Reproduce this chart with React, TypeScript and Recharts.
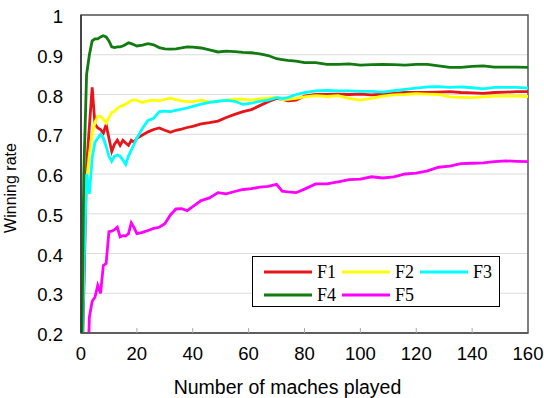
import React from 'react';
import { LineChart, Line, XAxis, YAxis, CartesianGrid, ReferenceArea, Legend } from 'recharts';

const matches = [
  0, 1, 2, 3, 4, 5, 6, 7, 8, 9, 10,
  11, 12, 13, 14, 15, 16, 17, 18, 19, 20,
  22, 24, 26, 28, 30, 32, 34, 36, 38, 40,
  43, 46, 49, 52, 55, 58, 61, 64, 67, 70,
  72, 74, 77, 80,
  84, 88, 92, 96, 100, 104, 108, 112, 116, 120,
  124, 128, 132, 136, 140, 144, 148, 152, 156, 160,
];

const f1 = [
  0, 0.3, 0.62, 0.72, 0.818, 0.725, 0.716, 0.712, 0.703, 0.724, 0.69,
  0.657, 0.675, 0.685, 0.672, 0.685, 0.678, 0.672, 0.685, 0.68, 0.69,
  0.698, 0.706, 0.712, 0.716, 0.71, 0.705, 0.71, 0.713, 0.717, 0.72,
  0.726, 0.729, 0.733, 0.742, 0.75, 0.757, 0.762, 0.772, 0.782, 0.79,
  0.788, 0.784, 0.786, 0.796,
  0.8, 0.8, 0.801, 0.8, 0.801, 0.799, 0.801, 0.803, 0.805, 0.805,
  0.805, 0.806, 0.807, 0.805, 0.804, 0.803, 0.805, 0.806, 0.807, 0.807,
];

const f2 = [
  0, 0.45, 0.58, 0.65, 0.7, 0.73, 0.745, 0.745, 0.738, 0.728, 0.742,
  0.755, 0.758, 0.765, 0.77, 0.772, 0.776, 0.78, 0.785, 0.787, 0.785,
  0.78, 0.784, 0.786, 0.784, 0.788, 0.791, 0.787, 0.784, 0.782, 0.782,
  0.786, 0.781, 0.783, 0.786, 0.788, 0.788, 0.786, 0.789, 0.791, 0.793,
  0.787, 0.788, 0.79, 0.794,
  0.797, 0.795, 0.797, 0.79, 0.786, 0.79, 0.796, 0.799, 0.8, 0.802,
  0.801, 0.8, 0.794, 0.793, 0.792, 0.794, 0.796, 0.796, 0.796, 0.795,
];

const f3 = [
  0, 0.35, 0.6, 0.55, 0.64, 0.68, 0.69, 0.7, 0.69, 0.67, 0.645,
  0.632, 0.645, 0.648, 0.645, 0.635, 0.624, 0.645, 0.66, 0.675, 0.69,
  0.715, 0.735, 0.74, 0.757, 0.758, 0.757, 0.76, 0.763, 0.766, 0.77,
  0.776, 0.78, 0.783, 0.785, 0.783, 0.775, 0.778, 0.783, 0.786, 0.792,
  0.79, 0.792, 0.8, 0.805,
  0.809, 0.81, 0.809, 0.809, 0.808, 0.808, 0.806, 0.81, 0.813, 0.816,
  0.819, 0.82, 0.818, 0.819, 0.817, 0.814, 0.818, 0.818, 0.818, 0.816,
];

const f4 = [
  0, 0.6, 0.85, 0.9, 0.935, 0.94, 0.94, 0.945, 0.948, 0.945, 0.935,
  0.92, 0.918, 0.92, 0.92, 0.922, 0.926, 0.93, 0.928, 0.925, 0.922,
  0.924, 0.928, 0.925, 0.918, 0.915, 0.914, 0.915, 0.917, 0.92, 0.919,
  0.917, 0.912, 0.907, 0.909, 0.908, 0.906, 0.905, 0.902, 0.898, 0.89,
  0.888, 0.886, 0.884, 0.88,
  0.88, 0.876, 0.876, 0.877, 0.874, 0.875, 0.876, 0.875, 0.874, 0.876,
  0.876, 0.872, 0.868, 0.868, 0.871, 0.872, 0.869, 0.869, 0.869, 0.868,
];

const f5 = [
  0, 0, 0, 0.24, 0.28, 0.29, 0.32, 0.3, 0.37, 0.375, 0.455,
  0.456, 0.46, 0.466, 0.442, 0.445, 0.444, 0.45, 0.477, 0.465, 0.45,
  0.453, 0.458, 0.463, 0.466, 0.475, 0.497, 0.512, 0.513, 0.508, 0.518,
  0.533, 0.54, 0.553, 0.55, 0.556, 0.561, 0.563, 0.567, 0.569, 0.574,
  0.557, 0.555, 0.553, 0.562,
  0.575, 0.575, 0.58, 0.586, 0.587, 0.593, 0.59, 0.593, 0.6, 0.602,
  0.608, 0.617, 0.62, 0.626, 0.627, 0.628, 0.631, 0.633, 0.632, 0.631,
];

const xTicks = [0, 20, 40, 60, 80, 100, 120, 140, 160];
const yTicks = [0.2, 0.3, 0.4, 0.5, 0.6, 0.7, 0.8, 0.9, 1];
const seriesNames = ['F1', 'F2', 'F3', 'F4', 'F5'];
const seriesValues = [f1, f2, f3, f4, f5];
const colors = ['#e8141a', '#ffff00', '#00ffff', '#117a11', '#ff00ff'];

const data = matches.map((m, i) => {
  const row: Record<string, number> = { m };
  seriesNames.forEach((n, k) => {
    row[n] = seriesValues[k][i];
  });
  return row;
});

const tickFont = '"Liberation Sans", Arial, sans-serif';

const YTick = (props: any) => {
  const { x, y, payload } = props;
  return (
    <text x={x} y={y} dy={8} textAnchor="end" fontFamily={tickFont} fontSize={18.5} fill="#000">
      {String(payload.value)}
    </text>
  );
};

const XTick = (props: any) => {
  const { x, y, payload } = props;
  const inner = payload.value !== 0 && payload.value !== 160;
  return (
    <g>
      {inner && <line x1={x} x2={x} y1={y} y2={y - 5} stroke="#aaa" strokeWidth={1} />}
      <text x={x} y={y + 27} textAnchor="middle" fontFamily={tickFont} fontSize={18.5} fill="#000">
        {String(payload.value)}
      </text>
    </g>
  );
};

const LegendBox = () => {
  const rows = [
    [0, 1, 2],
    [3, 4],
  ];
  return (
    <svg width={248} height={51} style={{ display: 'block' }}>
      <rect x={0.5} y={0.5} width={247} height={50} fill="#fff" stroke="#000" strokeWidth={1} />
      {rows.map((r, ri) =>
        r.map((k, ci) => {
          const lx = 12 + ci * 78;
          const ly = 16 + ri * 23;
          return (
            <g key={k}>
              <line x1={lx} x2={lx + 48} y1={ly} y2={ly} stroke={colors[k]} strokeWidth={3} />
              <text
                x={lx + 53}
                y={ly + 6}
                fontFamily='"Liberation Serif", "Times New Roman", serif'
                fontSize={18}
                fill="#000"
              >
                {seriesNames[k]}
              </text>
            </g>
          );
        })
      )}
    </svg>
  );
};

export default function App() {
  return (
    <div style={{ position: 'absolute', left: 0, top: 0, width: 544, height: 398, background: '#fff' }}>
      <LineChart width={544} height={398} data={data} margin={{ top: 15, right: 16, bottom: 20, left: 0 }}>
        <CartesianGrid vertical={false} stroke="#dcdcdc" strokeWidth={1} />
        <XAxis
          dataKey="m"
          type="number"
          domain={[0, 160]}
          ticks={xTicks}
          interval={0}
          tickLine={false}
          tickSize={0}
          tickMargin={0}
          height={45}
          axisLine={{ stroke: '#555', strokeWidth: 1.5 }}
          tick={<XTick />}
          label={{
            value: 'Number of maches played',
            position: 'insideBottom',
            offset: -16,
            dx: -17,
            style: { fontFamily: tickFont, fontSize: 19.5, fill: '#000' },
          }}
        />
        <YAxis
          type="number"
          domain={[0.2, 1]}
          ticks={yTicks}
          interval={0}
          allowDataOverflow
          width={81}
          tickLine={false}
          tickSize={0}
          tickMargin={18}
          axisLine={{ stroke: '#333', strokeWidth: 1.5 }}
          tick={<YTick />}
          label={{
            value: 'Winning rate',
            angle: -90,
            position: 'insideLeft',
            offset: 10,
            dy: 14,
            style: { fontFamily: tickFont, fontSize: 16, fill: '#000', textAnchor: 'middle' },
          }}
        />
        <ReferenceArea x1={0} x2={160} y1={0.2} y2={1} fill="none" stroke="#555" strokeWidth={1.5} ifOverflow="visible" />
        {seriesNames.map((n, k) => (
          <Line
            key={n}
            type="linear"
            dataKey={n}
            stroke={colors[k]}
            strokeWidth={2.8}
            dot={false}
            activeDot={false}
            isAnimationActive={false}
          />
        ))}
        <Legend
          layout="vertical"
          align="center"
          verticalAlign="middle"
          content={() => <LegendBox />}
          wrapperStyle={{ left: 252, top: 256, width: 248, height: 51 }}
        />
      </LineChart>
    </div>
  );
}
